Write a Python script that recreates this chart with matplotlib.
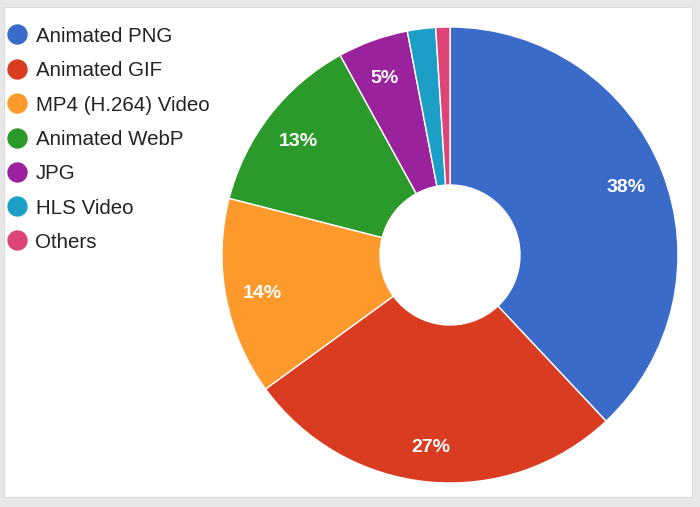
import matplotlib
matplotlib.use("Agg")
import matplotlib.pyplot as plt
from matplotlib.patches import Rectangle
import matplotlib.transforms as mtransforms

categories = ["Animated PNG", "Animated GIF", "MP4 (H.264) Video", "Animated WebP",
              "JPG", "HLS Video", "Others"]
values = [38, 27, 14, 13, 5, 2, 1]
colors = ["#3a6bc9", "#d93c20", "#fd9a2b", "#2c9a2a", "#9a229c", "#1b9fc7", "#dd4477"]

W, H = 700, 507
fig = plt.figure(figsize=(W / 100, H / 100), dpi=100)
fig.patch.set_facecolor("#e7e7e7")

# white card
fig.add_artist(Rectangle((4 / W, 1 - 497 / H), (692 - 4) / W, (497 - 7) / H,
                         transform=fig.transFigure, facecolor="white",
                         edgecolor="#dddddd", linewidth=0.8, zorder=0))

# pie axes
cx, cy, r = 450, 255, 228
ax = fig.add_axes([(cx - r) / W, 1 - (cy + r) / H, 2 * r / W, 2 * r / H])

def fmt(p):
    return f"{p:.0f}%" if p >= 4.5 else ""

wedges, texts, autotexts = ax.pie(
    values, colors=colors, startangle=90, counterclock=False, radius=1,
    autopct=fmt, pctdistance=0.835,
    wedgeprops=dict(width=1 - 70 / 228, edgecolor="white", linewidth=1.0),
    textprops=dict(color="white", fontsize=14, fontweight="bold",
                   family=["Liberation Sans", "DejaVu Sans"]))
ax.set_aspect("auto")
ax.set_xlim(-1, 1)
ax.set_ylim(-1, 1)
ax.axis("off")
shift = mtransforms.ScaledTranslation(-1 / 100, -3 / 100, fig.dpi_scale_trans)
for t in autotexts:
    t.set_transform(t.get_transform() + shift)

# legend drawn on an overlay axes in pixel coordinates
lax = fig.add_axes([0, 0, 1, 1])
lax.set_xlim(0, W)
lax.set_ylim(H, 0)
lax.axis("off")
row_y = [34.3, 69, 103.3, 137.7, 171.7, 206, 240]
for name, col, y in zip(categories, colors, row_y):
    lax.scatter([16.7], [y], s=215, color=col, linewidths=0)
    lax.text(35.5, y + 7.5, name, fontsize=14.8, color="#222222",
             va="baseline", ha="left", family=["Liberation Sans", "DejaVu Sans"])

fig.savefig("out.png", dpi=100, facecolor=fig.get_facecolor())
